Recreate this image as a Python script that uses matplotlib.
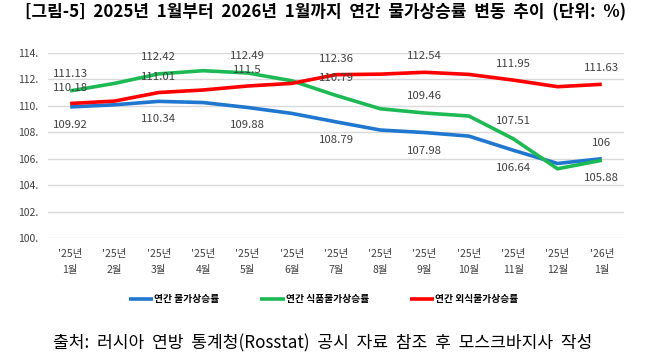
import numpy as np
import matplotlib
matplotlib.use("Agg")
import matplotlib.pyplot as plt

plt.rcParams['font.family'] = ['Noto Sans CJK KR', 'DejaVu Sans']

months = ["'25년\n1월", "'25년\n2월", "'25년\n3월", "'25년\n4월", "'25년\n5월", "'25년\n6월",
          "'25년\n7월", "'25년\n8월", "'25년\n9월", "'25년\n10월", "'25년\n11월", "'25년\n12월",
          "'26년\n1월"]
cpi   = [109.92, 110.08, 110.34, 110.25, 109.88, 109.43, 108.79, 108.17, 107.98, 107.71, 106.64, 105.64, 106.00]
food  = [111.13, 111.70, 112.42, 112.66, 112.49, 111.90, 110.79, 109.78, 109.46, 109.23, 107.51, 105.24, 105.88]
cater = [110.18, 110.36, 111.01, 111.20, 111.50, 111.70, 112.36, 112.40, 112.54, 112.38, 111.95, 111.45, 111.63]
names = ["연간 물가상승률", "연간 식품물가상승률", "연간 외식물가상승률"]
labels_at = [0, 2, 4, 6, 8, 10, 12]

title = "[그림-5]  2025년  1월부터  2026년  1월까지  연간  물가상승률  변동  추이  (단위:  %)"
source = "출처:  러시아  연방  통계청(Rosstat)  공시  자료  참조  후  모스크바지사  작성"

fig = plt.figure(figsize=(6.47, 3.61), dpi=100)
ax = fig.add_axes([48/647, 1 - 238/361, (624-48)/647, (238-53)/361])
x = np.arange(len(months))

colors = ["#1f77d0", "#1db954", "#ff0000"]
series = [cpi, food, cater]
for vals, col, nm in zip(series, colors, names):
    ax.plot(x, vals, color=col, lw=2.6, label=nm, solid_capstyle='butt')

def fmt(v):
    return f"{v:g}"

for i in labels_at:
    # blue below except last, green above except last, red above
    off_b = 11 if i == 12 else -13
    off_g = -13 if i == 12 else 12.5
    ax.annotate(fmt(cpi[i]), (x[i], cpi[i]), xytext=(0, off_b), textcoords='offset points',
                ha='center', va='center', fontsize=8.2, color='#404040')
    ax.annotate(fmt(food[i]), (x[i], food[i]), xytext=(0, off_g), textcoords='offset points',
                ha='center', va='center', fontsize=8.2, color='#404040')
    ax.annotate(fmt(cater[i]), (x[i], cater[i]), xytext=(0, 11.5), textcoords='offset points',
                ha='center', va='center', fontsize=8.2, color='#404040')

ax.set_xlim(-0.5, 12.5)
ax.set_ylim(100, 114)
ax.set_yticks(np.arange(100, 115, 2))
ax.set_yticklabels([f"{int(v)}." for v in np.arange(100, 115, 2)], fontsize=7.5, color='#404040')
ax.set_xticks(x)
ax.set_xticklabels(months, fontsize=7.5, color='#404040', linespacing=1.7)
ax.tick_params(length=0, pad=8)
ax.tick_params(axis='y', pad=7)
ax.grid(axis='y', color='#d9d9d9', lw=1)
ax.set_axisbelow(True)
for s in ax.spines.values():
    s.set_visible(False)

fig.legend(loc='center', bbox_to_anchor=(0.5, 1 - 299/361), ncol=3, frameon=False,
           prop={'size': 7, 'weight': 'bold'}, handlelength=2.5, handletextpad=0.1,
           columnspacing=4.2)

fig.text(25/647, 1 - 12/361, title, fontsize=12.2, fontweight='bold', ha='left', va='center')
fig.text(323/647, 1 - 343/361, source, fontsize=12.3, ha='center', va='center')

fig.savefig("out.png", dpi=100)
